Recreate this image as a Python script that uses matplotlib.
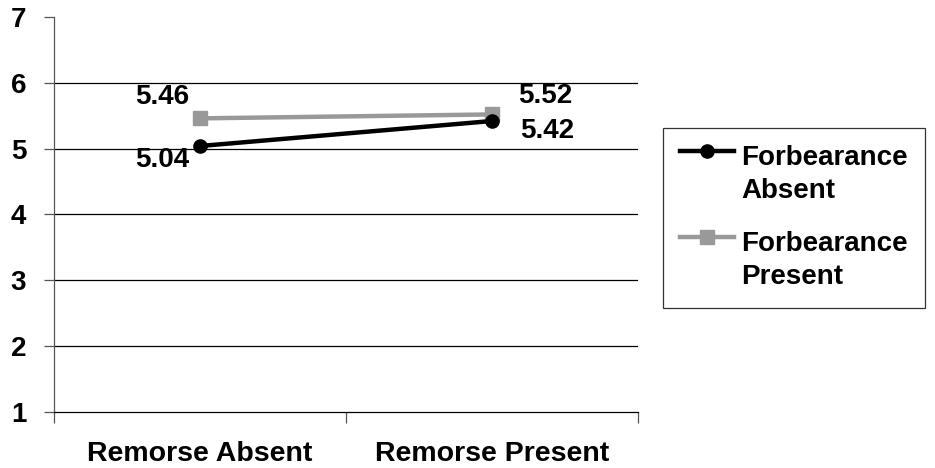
import matplotlib.pyplot as plt
from matplotlib.ticker import FixedLocator
from matplotlib.legend_handler import HandlerLine2D

plt.rcParams["font.family"] = ["Liberation Sans", "DejaVu Sans"]
plt.rcParams["font.weight"] = "bold"

# cell means for the 2x2 design
conditions = ["Remorse Absent", "Remorse Present"]
forbearance_absent = [5.04, 5.42]
forbearance_present = [5.46, 5.52]
series_labels = ["Forbearance\nAbsent", "Forbearance\nPresent"]
y_ticks = [1, 2, 3, 4, 5, 6, 7]

# (dx, dy) in points for each value label
absent_offsets = [(-27, -10), (40, -7.3)]
present_offsets = [(-27, 15.3), (38, 13.2)]


class FirstLineHandler(HandlerLine2D):
    """Put the legend glyph level with the first line of a two-line label."""

    def create_artists(self, legend, orig_handle, xdescent, ydescent,
                       width, height, fontsize, trans):
        return super().create_artists(legend, orig_handle, xdescent,
                                      ydescent - 1.72 * fontsize, width,
                                      height, fontsize, trans)


fig = plt.figure(figsize=(9.35, 4.68), dpi=100)
ax = fig.add_axes([0.0578, 0.1197, 0.6245, 0.844])

x = list(range(len(conditions)))
ax.plot(x, forbearance_absent, color="black", lw=3.2, marker="o", ms=9.5,
        label=series_labels[0], zorder=3)
ax.plot(x, forbearance_present, color="#999999", lw=3.2, marker="s", ms=10.5,
        label=series_labels[1], zorder=2)

# value labels
for vals, offs in [(forbearance_absent, absent_offsets),
                   (forbearance_present, present_offsets)]:
    for xi, v, off in zip(x, vals, offs):
        ax.annotate(f"{v:.2f}", (xi, v), xytext=off, textcoords="offset points",
                    ha="center", va="center", fontsize=20, fontweight="bold")

ax.set_xlim(-0.5, len(conditions) - 0.5)
ax.set_ylim(y_ticks[0], y_ticks[-1])
ax.set_yticks(y_ticks)
ax.set_yticklabels([str(t) for t in y_ticks], fontsize=20, fontweight="bold")
for t in y_ticks[1:-1]:
    ax.axhline(t, color="black", lw=0.9, zorder=1)

ax.set_xticks(x)
ax.set_xticklabels(conditions, fontsize=20.5, fontweight="bold")
ax.tick_params(axis="x", which="major", length=0, pad=21)
ax.xaxis.set_minor_locator(FixedLocator([-0.5, 0.5, 1.5]))
ax.tick_params(axis="x", which="minor", length=8, width=0.9, color="#555555")
ax.tick_params(axis="y", length=7, width=0.9, color="#555555", pad=13)

for side in ["top", "right"]:
    ax.spines[side].set_visible(False)
ax.spines["left"].set_color("#555555")
ax.spines["bottom"].set_color("black")
ax.spines["left"].set_linewidth(0.9)
ax.spines["bottom"].set_linewidth(0.9)

leg = fig.legend(loc="upper left", bbox_to_anchor=(0.709, 0.7265),
                 borderaxespad=0, prop={"size": 20, "weight": "bold"},
                 frameon=True, fancybox=False, edgecolor="black",
                 handlelength=1.95, labelspacing=0.96, borderpad=0.62,
                 handletextpad=0.25,
                 handler_map={plt.Line2D: FirstLineHandler()})
leg.get_frame().set_linewidth(0.9)
for txt in leg.get_texts():
    txt.set_linespacing(1.36)

fig.savefig("out.png", dpi=100)
